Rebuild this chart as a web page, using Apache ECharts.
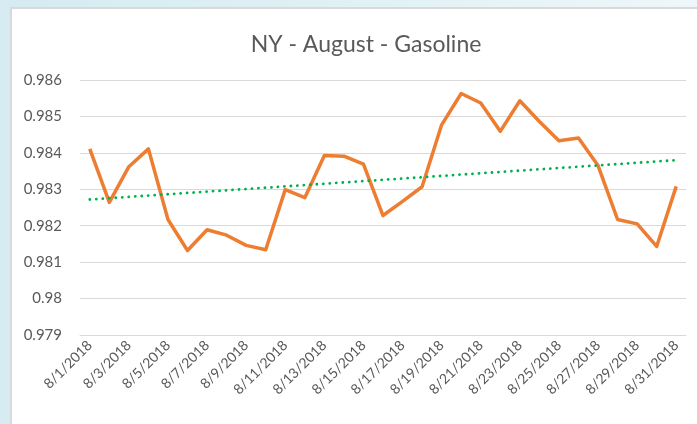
<!DOCTYPE html>
<html>
<head>
<meta charset="utf-8">
<script src="https://cdn.jsdelivr.net/npm/echarts@6/dist/echarts.min.js"></script>
<style>
  html, body { margin: 0; padding: 0; }
  body {
    width: 697px; height: 424px; overflow: hidden; position: relative;
    background: linear-gradient(90deg, #d5ebf1 0%, #e3f2f6 60%, #eef7fa 100%);
  }
  #frame {
    position: absolute; left: 10px; top: 7px; right: 0; bottom: 0;
    background: #fff; border-left: 2px solid #d9d9d9; border-top: 2px solid #d9d9d9;
  }
  #chart { position: absolute; left: 0; top: 0; width: 697px; height: 424px; }
</style>
</head>
<body>
<div id="frame"></div>
<div id="chart"></div>
<script>
// dates 8/1 .. 8/31
const categories = [
  '8/1/2018', '8/2/2018', '8/3/2018', '8/4/2018', '8/5/2018', '8/6/2018', '8/7/2018',
  '8/8/2018', '8/9/2018', '8/10/2018', '8/11/2018', '8/12/2018', '8/13/2018', '8/14/2018',
  '8/15/2018', '8/16/2018', '8/17/2018', '8/18/2018', '8/19/2018', '8/20/2018', '8/21/2018',
  '8/22/2018', '8/23/2018', '8/24/2018', '8/25/2018', '8/26/2018', '8/27/2018', '8/28/2018',
  '8/29/2018', '8/30/2018', '8/31/2018'
];
const values = [
  0.98411, 0.98264, 0.98362, 0.98411, 0.98217, 0.98132, 0.98189,
  0.98174, 0.98146, 0.98134, 0.98299, 0.98277, 0.98393, 0.98391,
  0.98369, 0.98228, 0.98267, 0.98307, 0.98477, 0.98563, 0.98537,
  0.98459, 0.98543, 0.98486, 0.98433, 0.98441, 0.98365, 0.98217,
  0.98205, 0.98143, 0.98308
];
// trendline ends
const trendStart = 0.98272;
const trendEnd = 0.98380;

const yMin = 0.979, yMax = 0.986, yStep = 0.001;

let chart = echarts.init(document.getElementById('chart'));
let option = {
  backgroundColor: 'transparent',
  animation: false,
  textStyle: { fontFamily: 'Lato, "Liberation Sans", sans-serif' },
  title: {
    text: 'NY - August - Gasoline',
    left: 361, top: 28, textAlign: 'center',
    textStyle: { fontSize: 23, fontWeight: 'normal', color: '#595959', fontFamily: 'Lato, sans-serif' }
  },
  grid: { left: 80, right: 11, top: 80, bottom: 89 },
  xAxis: {
    type: 'category',
    data: categories,
    boundaryGap: true,
    axisLine: { lineStyle: { color: '#d9d9d9' } },
    axisTick: { show: false },
    axisLabel: { interval: 1, rotate: 45, fontSize: 14, color: '#595959', margin: 8 }
  },
  yAxis: {
    type: 'value',
    min: yMin, max: yMax, interval: yStep,
    axisLine: { show: false },
    axisTick: { show: false },
    axisLabel: { fontSize: 15, color: '#595959', margin: 18, formatter: v => String(+v.toFixed(3)) },
    splitLine: { lineStyle: { color: '#d9d9d9', width: 1 } }
  },
  series: [
    {
      type: 'line',
      data: values,
      symbol: 'none',
      lineStyle: { color: '#ed7d31', width: 3.5, join: 'round' },
      markLine: {
        silent: true,
        symbol: ['none', 'none'],
        label: { show: false },
        lineStyle: { color: '#00b050', width: 2.8, type: [0.1, 6.4], cap: 'round' },
        data: [[
          { coord: [categories[0], trendStart] },
          { coord: [categories[categories.length - 1], trendEnd] }
        ]]
      }
    }
  ]
};
chart.setOption(option);
</script>
</body>
</html>
